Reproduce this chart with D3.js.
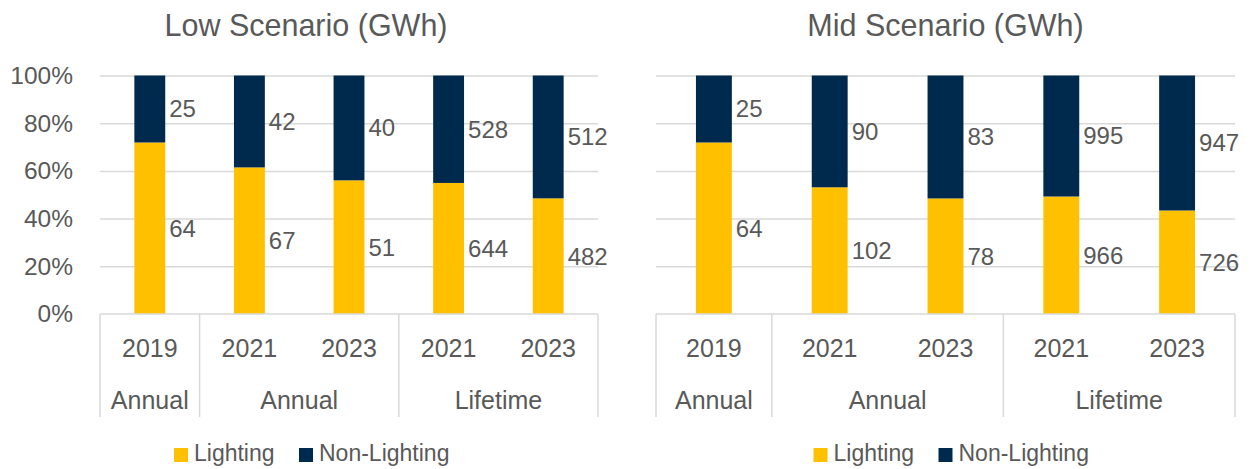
<!DOCTYPE html>
<html>
<head>
<meta charset="utf-8">
<script src="https://cdn.jsdelivr.net/npm/d3@7"></script>
<style>
  body { margin: 0; background: #fff; }
  svg text { font-family: "Liberation Sans", Arial, sans-serif; fill: #595959; }
</style>
</head>
<body>
<script>
// Data
const years = ['2019', '2021', '2023', '2021', '2023'];
const groupLabels = ['Annual', 'Annual', 'Lifetime'];
const groupSizes = [1, 2, 2];
const seriesNames = ['Lighting', 'Non-Lighting'];
const seriesColors = ['#FFC000', '#002A4D'];
const lowLighting = [64, 67, 51, 644, 482];
const lowNonLighting = [25, 42, 40, 528, 512];
const midLighting = [64, 102, 78, 966, 726];
const midNonLighting = [25, 90, 83, 995, 947];
const yTicks = [0, 0.2, 0.4, 0.6, 0.8, 1];

const width = 1251;
const height = 469;

const svg = d3.select('body')
  .append('svg')
  .attr('width', width)
  .attr('height', height);

// Draw one scenario panel
function drawPanel(p) {
  const g = svg.append('g');

  const rows = years.map((y, i) => ({ i: i, Lighting: p.lighting[i], 'Non-Lighting': p.nonLighting[i] }));
  const stacked = d3.stack().keys(seriesNames).offset(d3.stackOffsetExpand)(rows);

  const x = d3.scaleBand()
    .domain(d3.range(years.length))
    .range([p.left, p.right])
    .paddingInner(0.69)
    .paddingOuter(0.345);

  const y = d3.scaleLinear()
    .domain([0, 1])
    .range([p.bottom, p.top]);

  // gridlines
  const grid = g.append('g')
    .attr('transform', 'translate(' + p.left + ',0)')
    .call(d3.axisLeft(y).tickValues(yTicks.slice(1)).tickSize(-(p.right - p.left)).tickFormat(''));
  grid.select('.domain').remove();
  grid.selectAll('line').attr('stroke', '#d9d9d9').attr('stroke-width', 1.5);

  // y labels
  if (p.showY) {
    const ya = g.append('g')
      .attr('transform', 'translate(' + p.left + ',0)')
      .call(d3.axisLeft(y).tickValues(yTicks).tickSize(0).tickPadding(27).tickFormat(d3.format('.0%')));
    ya.select('.domain').remove();
    ya.selectAll('text').style('font-size', '24.5px').attr('fill', '#595959');
  }

  // bars
  g.selectAll('.series')
    .data(stacked)
    .join('g')
    .attr('fill', (d, i) => seriesColors[i])
    .selectAll('rect')
    .data(d => d)
    .join('rect')
    .attr('x', (d, i) => x(i))
    .attr('width', x.bandwidth())
    .attr('y', d => y(d[1]))
    .attr('height', d => y(d[0]) - y(d[1]));

  // data labels
  stacked.forEach((s, si) => {
    g.selectAll('.lbl' + si)
      .data(s)
      .join('text')
      .attr('x', (d, i) => x(i) + x.bandwidth() + 4)
      .attr('y', d => (y(d[0]) + y(d[1])) / 2 + 2)
      .attr('dominant-baseline', 'middle')
      .style('font-size', '24px')
      .text(d => d.data[s.key]);
  });

  // category axis
  const axisBottom = p.bottom + 103;
  g.append('line')
    .attr('x1', p.left).attr('x2', p.right)
    .attr('y1', p.bottom).attr('y2', p.bottom)
    .attr('stroke', '#d9d9d9').attr('stroke-width', 1.5);

  g.selectAll('.year')
    .data(years)
    .join('text')
    .attr('x', (d, i) => x(i) + x.bandwidth() / 2)
    .attr('y', p.bottom + 36)
    .attr('text-anchor', 'middle')
    .attr('dominant-baseline', 'middle')
    .style('font-size', '25px')
    .text(d => d);

  const step = x.step();
  let start = 0;
  const bounds = [0];
  groupSizes.forEach((n, gi) => {
    g.append('text')
      .attr('x', p.left + (start + n / 2) * step)
      .attr('y', p.bottom + 88)
      .attr('text-anchor', 'middle')
      .attr('dominant-baseline', 'middle')
      .style('font-size', '25px')
      .text(groupLabels[gi]);
    start += n;
    bounds.push(start);
  });

  g.selectAll('.sep')
    .data(bounds)
    .join('line')
    .attr('x1', d => p.left + d * step)
    .attr('x2', d => p.left + d * step)
    .attr('y1', p.bottom)
    .attr('y2', axisBottom)
    .attr('stroke', '#d9d9d9')
    .attr('stroke-width', 1.5);

  // title
  g.append('text')
    .attr('x', p.center)
    .attr('y', 36)
    .attr('text-anchor', 'middle')
    .style('font-size', '30.5px')
    .text(p.title);

  // legend
  const legendOffsets = [-132, -7];
  seriesNames.forEach((name, i) => {
    g.append('rect')
      .attr('x', p.center + legendOffsets[i])
      .attr('y', 448)
      .attr('width', 14)
      .attr('height', 14)
      .attr('fill', seriesColors[i]);
    g.append('text')
      .attr('x', p.center + legendOffsets[i] + 20)
      .attr('y', 455)
      .attr('dominant-baseline', 'middle')
      .style('font-size', '23px')
      .text(name);
  });
}

drawPanel({
  title: 'Low Scenario (GWh)', lighting: lowLighting, nonLighting: lowNonLighting,
  left: 100, right: 598, top: 75.5, bottom: 314, center: 306, showY: true
});

drawPanel({
  title: 'Mid Scenario (GWh)', lighting: midLighting, nonLighting: midNonLighting,
  left: 656, right: 1235, top: 75.5, bottom: 314, center: 945.5, showY: false
});
</script>
</body>
</html>
